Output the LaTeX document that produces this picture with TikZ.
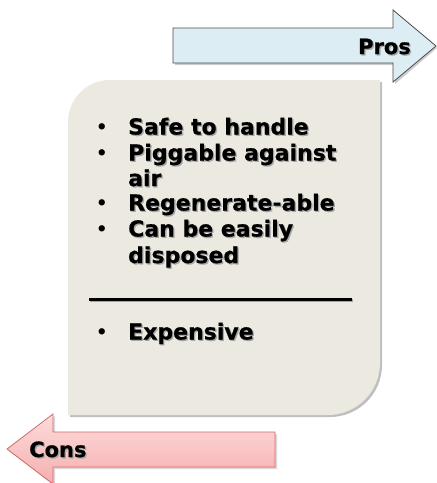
\documentclass[tikz,border=0pt]{standalone}
\usepackage{fontspec}
\setmainfont{DejaVu Sans}
\newfontfamily\heavy[FakeBold=0.6]{DejaVu Sans Bold}
\definecolor{boxfill}{HTML}{ECE9E0}
\definecolor{prosfill}{HTML}{DCEEF4}
\definecolor{prosedge}{HTML}{4A4A4A}
\definecolor{constop}{HTML}{FDDCDC}
\definecolor{consbot}{HTML}{F6AEAE}
\definecolor{consedge}{HTML}{D26A6A}
\newcommand{\shd}[1]{\rlap{\hspace{1.3pt}\raisebox{-1.3pt}{\textcolor{black!35}{#1}}}#1}
\tikzset{
  listtext/.style={anchor=base west, inner sep=0pt, font=\fontsize{22}{26}\selectfont\heavy},
  bul/.style={anchor=base west, inner sep=0pt, font=\fontsize{18}{24}\selectfont\bfseries},
  arrowtext/.style={inner sep=0pt, font=\fontsize{21}{25}\selectfont\heavy},
}
\begin{document}
\begin{tikzpicture}[x=1pt,y=-1pt]
\useasboundingbox (0,0) rectangle (437,483);
% box shadow
\fill[black!25] (70,417) -- (70,124) .. controls (70,100.8) and (88.8,82) .. (112,82) -- (382,82) -- (382,365) .. controls (382,393.7) and (358.7,417) .. (330,417) -- cycle;
\fill[boxfill] (68,415) -- (68,122) .. controls (68,98.8) and (86.8,80) .. (110,80) -- (380,80) -- (380,363) .. controls (380,391.7) and (356.7,415) .. (328,415) -- cycle;
% pros arrow
\fill[black!20] (175,30) -- (395,30) -- (395,12) -- (437,48) -- (395,84) -- (395,65) -- (175,65) -- cycle;
\draw[prosedge, line width=0.8pt, fill=prosfill] (173,28) -- (393,28) -- (393,10) -- (436,46) -- (393,82) -- (393,63) -- (173,63) -- cycle;
\node[arrowtext, anchor=base east] (pros) at (411,54) {\shd{Pros}};
% cons arrow
\fill[black!15] (277,434) -- (55,434) -- (55,416) -- (9,451) -- (55,486) -- (55,469) -- (277,469) -- cycle;
\draw[consedge, line width=0.8pt, top color=constop, bottom color=consbot] (275,432) -- (53,432) -- (53,414) -- (7,449) -- (53,484) -- (53,467) -- (275,467) -- cycle;
\node[arrowtext, anchor=base west] (cons) at (29,457) {\shd{Cons}};
% list
\node[bul] (b1) at (96,133.5) {•};
\node[listtext] (l1) at (128,134.5) {\shd{Safe to handle}};
\node[bul] (b2) at (96,159.5) {•};
\node[listtext] (l2) at (128,160.5) {\shd{Piggable against}};
\node[listtext] (l3) at (128,186) {\shd{air}};
\node[bul] (b4) at (96,209.5) {•};
\node[listtext] (l4) at (128,210.5) {\shd{Regenerate-able}};
\node[bul] (b5) at (96,235.5) {•};
\node[listtext] (l5) at (128,236.5) {\shd{Can be easily}};
\node[listtext] (l6) at (128,263) {\shd{disposed}};
\coordinate (sepL) at (89,299);
\coordinate (sepR) at (352,299);
\draw[black!35, line width=3pt] ([shift={(1.3,1.3)}]sepL) -- ([shift={(1.3,1.3)}]sepR);
\draw[black, line width=3pt] (sepL) -- (sepR);
\node[bul] (b7) at (96,338.5) {•};
\node[listtext] (l7) at (128,339.5) {\shd{Expensive}};
\end{tikzpicture}
\end{document}
